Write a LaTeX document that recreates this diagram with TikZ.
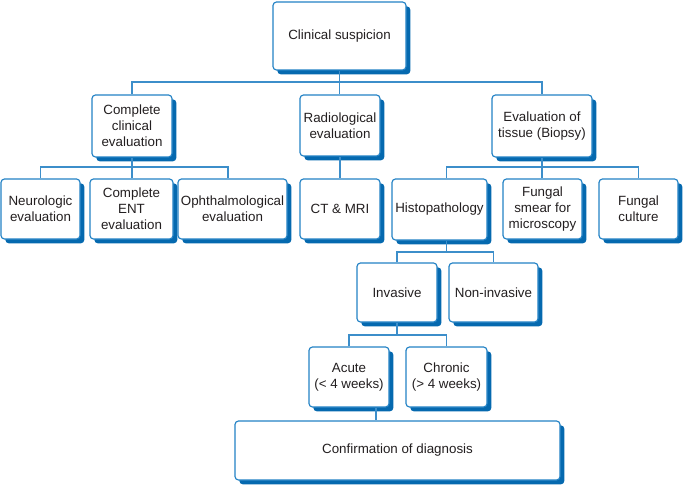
\documentclass[tikz,border=0pt]{standalone}
\usepackage{fontspec}
\setmainfont{Liberation Sans}
\usetikzlibrary{shadows}
\definecolor{boxblue}{RGB}{35,130,197}
\definecolor{shadowblue}{RGB}{5,105,175}
\definecolor{lineblue}{RGB}{60,142,202}
\definecolor{txtgray}{RGB}{35,31,32}
\begin{document}
\begin{tikzpicture}[x=0.03cm, y=-0.03cm,
  box/.style={draw=boxblue, line width=1pt, fill=white, rounded corners=3pt,
    inner sep=0pt, align=center, text=txtgray, font=\fontsize{11.4}{13.6}\selectfont,
    drop shadow={shadow xshift=0.13cm, shadow yshift=-0.13cm, fill=shadowblue, opacity=1}},
  link/.style={draw=lineblue, line width=0.9pt}]
\useasboundingbox (0,0) rectangle (685,486);
% levels of the horizontal bars
\coordinate (busA) at (0,82);
\coordinate (busB) at (0,167);
\coordinate (busC) at (0,252);
\coordinate (busD) at (0,335);

\node[box, minimum width=3.99cm, minimum height=2.04cm] (clin) at (339.5,36) {Clinical suspicion};

\node[box, minimum width=2.4cm, minimum height=1.86cm] (cce) at (132,126) {Complete\\clinical\\evaluation};
\node[box, minimum width=2.4cm, minimum height=1.83cm] (rad) at (340,125.5) {Radiological\\evaluation};
\node[box, minimum width=3.0cm, minimum height=1.86cm] (tis) at (542,126) {Evaluation of\\tissue (Biopsy)};

\node[box, minimum width=2.37cm, minimum height=1.8cm] (neu) at (40.5,209) {Neurologic\\evaluation};
\node[box, minimum width=2.49cm, minimum height=1.8cm] (ent) at (131.5,209) {Complete\\ENT\\evaluation};
\node[box, minimum width=3.27cm, minimum height=1.8cm] (oph) at (232.5,209) {Ophthalmological\\evaluation};
\node[box, minimum width=2.4cm, minimum height=1.8cm] (ctmri) at (340,209) {CT \& MRI};
\node[box, minimum width=2.85cm, minimum height=1.83cm] (histo) at (439.5,209.5) {Histopathology};
\node[box, minimum width=2.37cm, minimum height=1.8cm] (smear) at (542.5,209) {Fungal\\smear for\\microscopy};
\node[box, minimum width=2.37cm, minimum height=1.8cm] (cult) at (638.5,209) {Fungal\\culture};

\node[box, minimum width=2.4cm, minimum height=1.77cm] (inv) at (397,292.5) {Invasive};
\node[box, minimum width=2.67cm, minimum height=1.77cm] (noninv) at (493.5,292.5) {Non-invasive};

\node[box, minimum width=2.4cm, minimum height=1.8cm] (acute) at (349,377) {Acute\\(< 4 weeks)};
\node[box, minimum width=2.43cm, minimum height=1.8cm] (chron) at (446.5,377) {Chronic\\(> 4 weeks)};

\node[box, minimum width=9.75cm, minimum height=1.77cm] (conf) at (397.5,450.5) {Confirmation of diagnosis};

\draw[link] (clin.south) -- (clin.south |- rad.north);
\draw[link] (cce.north) |- (tis.north |- busA) -- (tis.north);

\draw[link] (cce.south) -- (cce.south |- ent.north);
\draw[link] (neu.north) |- ([xshift=-0.135cm]oph.north |- busB) -- ([xshift=-0.135cm]oph.north);
\draw[link] (rad.south) -- (rad.south |- ctmri.north);
\draw[link] (tis.south) -- (tis.south |- smear.north);
\draw[link] ([xshift=0.2cm]histo.north) |- (cult.north |- busB) -- (cult.north);

\draw[link] ([xshift=0.2cm]histo.south) -- ([xshift=0.2cm]histo.south |- busC);
\draw[link] (inv.north) |- (noninv.north |- busC) -- (noninv.north);

\draw[link] (inv.south) -- (inv.south |- busD);
\draw[link] (acute.north) |- (chron.north |- busD) -- (chron.north);
\draw[link] ([xshift=0.81cm]acute.south) -- ([xshift=0.81cm]acute.south |- conf.north);

\end{tikzpicture}
\end{document}
